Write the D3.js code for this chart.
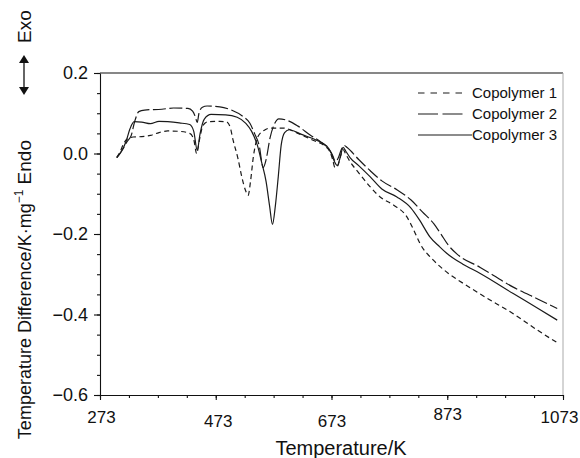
<!DOCTYPE html>
<html>
<head>
<meta charset="utf-8">
<script src="https://cdn.jsdelivr.net/npm/d3@7"></script>
<style>
  body { margin: 0; background: #fff; }
  svg { font-family: "Liberation Sans", Arial, sans-serif; }
</style>
</head>
<body>
<svg width="580" height="458"></svg>
<script>
// DTA curves of three copolymers
const seriesNames = ['Copolymer 1', 'Copolymer 2', 'Copolymer 3'];

const temp1 = [302, 308, 314, 320, 330, 345, 360, 375, 390, 410, 428, 435, 440, 445, 451, 460, 480, 492, 498, 503, 511, 518, 524, 529, 533, 538, 546, 557, 567, 590, 615, 641, 660, 670, 675, 679, 684, 689, 693, 697, 705, 720, 740, 757, 780, 803, 815, 826, 849, 875, 901, 940, 987, 1030, 1063];
const diff1 = [-0.01, 0.005, 0.025, 0.036, 0.041, 0.042, 0.045, 0.052, 0.056, 0.055, 0.05, 0.035, 0.0, 0.035, 0.07, 0.079, 0.08, 0.078, 0.065, 0.033, -0.01, -0.058, -0.09, -0.104, -0.07, -0.008, 0.042, 0.058, 0.063, 0.063, 0.05, 0.033, 0.02, 0.005, -0.015, -0.035, -0.03, -0.005, 0.01, 0.0, -0.02, -0.048, -0.083, -0.108, -0.128, -0.157, -0.19, -0.224, -0.265, -0.298, -0.323, -0.358, -0.398, -0.44, -0.47];

const temp2 = [302, 312, 320, 327, 333, 340, 350, 380, 400, 425, 433, 438, 441, 444, 450, 458, 480, 500, 520, 532, 540, 548, 555, 560, 567, 575, 582, 595, 615, 636, 655, 668, 675, 680, 685, 690, 695, 700, 720, 740, 760, 786, 810, 830, 850, 862, 875, 890, 930, 987, 1030, 1063];
const diff2 = [-0.01, 0.01, 0.03, 0.045, 0.08, 0.104, 0.108, 0.11, 0.113, 0.112, 0.105, 0.09, 0.077, 0.1, 0.115, 0.118, 0.116, 0.108, 0.092, 0.075, 0.05, 0.02, -0.035, -0.015, 0.04, 0.075, 0.086, 0.083, 0.068, 0.046, 0.028, 0.012, -0.005, -0.02, -0.01, 0.01, 0.02, 0.015, -0.015, -0.043, -0.068, -0.09, -0.115, -0.145, -0.175, -0.2, -0.228, -0.25, -0.283, -0.332, -0.362, -0.385];

const temp3 = [302, 310, 318, 325, 332, 345, 360, 375, 390, 410, 428, 435, 441, 446, 453, 465, 490, 510, 525, 535, 545, 552, 560, 566, 571, 576, 581, 586, 592, 600, 620, 647, 665, 673, 678, 683, 688, 693, 698, 705, 720, 740, 760, 786, 810, 825, 843, 860, 872, 900, 930, 987, 1030, 1063];
const diff3 = [-0.01, 0.005, 0.03, 0.062, 0.079, 0.078, 0.074, 0.08, 0.079, 0.076, 0.072, 0.055, 0.008, 0.05, 0.085, 0.097, 0.096, 0.09, 0.075, 0.055, 0.02, -0.02, -0.07, -0.13, -0.176, -0.13, -0.058, 0.02, 0.052, 0.059, 0.048, 0.033, 0.018, 0.0, -0.02, -0.03, -0.01, 0.015, 0.005, -0.01, -0.03, -0.058, -0.088, -0.108, -0.135, -0.165, -0.207, -0.232, -0.248, -0.275, -0.298, -0.348, -0.385, -0.414];

const xTicks = [273, 473, 673, 873, 1073];
const yTicks = [-0.6, -0.4, -0.2, 0.0, 0.2];

const svg = d3.select('svg');

// plot box
const plotLeft = 100, plotRight = 563, plotTop = 73, plotBottom = 395;

const x = d3.scaleLinear().domain([273, 1073]).range([plotLeft, plotRight]);
const y = d3.scaleLinear().domain([-0.6, 0.2]).range([plotBottom, plotTop]);

// frame: dark top line, grey right line
svg.append('line')
  .attr('x1', plotLeft).attr('x2', plotRight).attr('y1', plotTop).attr('y2', plotTop)
  .attr('stroke', '#111').attr('stroke-width', 1.2);
svg.append('line')
  .attr('x1', plotRight).attr('x2', plotRight).attr('y1', plotTop).attr('y2', plotBottom)
  .attr('stroke', '#aaa').attr('stroke-width', 1);

// minor ticks
const xMinor = svg.append('g').attr('transform', `translate(0,${plotBottom})`)
  .call(d3.axisBottom(x).tickValues(d3.range(273, 1074, 50)).tickSize(3).tickFormat(''));
xMinor.select('.domain').remove();
const yMinor = svg.append('g').attr('transform', `translate(${plotLeft},0)`)
  .call(d3.axisLeft(y).tickValues(d3.range(-0.6, 0.201, 0.05)).tickSize(3).tickFormat(''));
yMinor.select('.domain').remove();

// major axes
const fmt = d => d3.format('.1f')(d).replace('-', '\u2212');
const xAxis = svg.append('g').attr('transform', `translate(0,${plotBottom})`)
  .call(d3.axisBottom(x).tickValues(xTicks).tickSize(5).tickSizeOuter(0).tickFormat(d3.format('d')));
const yAxis = svg.append('g').attr('transform', `translate(${plotLeft},0)`)
  .call(d3.axisLeft(y).tickValues(yTicks).tickSize(6).tickSizeOuter(0).tickFormat(fmt));

[xAxis, yAxis, xMinor, yMinor].forEach(a => {
  a.selectAll('path, line').attr('stroke', '#111').attr('stroke-width', 1.1);
});

// tick labels in the scan sit a little unevenly
const xNudge = [[1, 28], [2, 32], [0, 32], [0, 25], [-4, 28]];
xAxis.selectAll('text')
  .attr('font-size', 17).attr('fill', '#111')
  .attr('y', (d, i) => xNudge[i][1]).attr('dy', 0)
  .attr('x', (d, i) => xNudge[i][0]);
yAxis.selectAll('text')
  .attr('font-size', 18).attr('fill', '#111').attr('x', -12);

// curves
const line = d3.line()
  .x(d => x(d[0]))
  .y(d => y(d[1]))
  .curve(d3.curveMonotoneX);

const series = [d3.zip(temp1, diff1), d3.zip(temp2, diff2), d3.zip(temp3, diff3)];
const dashes = ['5,3.5', '13,3.5', null];
const legendDashes = ['6.5,6', '20,4.5', null];

svg.append('g').selectAll('path')
  .data(series)
  .join('path')
  .attr('d', line)
  .attr('fill', 'none')
  .attr('stroke', '#1a1a1a')
  .attr('stroke-width', 1.2)
  .attr('stroke-dasharray', (d, i) => dashes[i]);

// legend
const legend = svg.append('g').selectAll('g')
  .data(seriesNames)
  .join('g')
  .attr('transform', (d, i) => `translate(418,${93 + i * 21})`);
legend.append('line')
  .attr('x1', 0).attr('x2', (d, i) => i === 2 ? 54 : 49)
  .attr('stroke', '#1a1a1a').attr('stroke-width', 1.2)
  .attr('stroke-dasharray', (d, i) => legendDashes[i]);
legend.append('text')
  .attr('x', 54).attr('dy', '0.35em')
  .attr('font-size', 15).attr('fill', '#111')
  .text(d => d);

// axis titles
svg.append('text')
  .attr('x', 341).attr('y', 455)
  .attr('text-anchor', 'middle')
  .attr('font-size', 20).attr('fill', '#111')
  .text('Temperature/K');

const yt = svg.append('text')
  .attr('transform', 'translate(31,140) rotate(-90)')
  .attr('text-anchor', 'end')
  .attr('font-size', 18).attr('fill', '#111');
yt.append('tspan').text('Temperature Difference/K\u00b7mg');
yt.append('tspan').attr('font-size', 12).attr('dy', -8).text('\u22121');
yt.append('tspan').attr('dy', 8).attr('font-size', 19).text(' Endo');

// Endo <-> Exo arrow
const ax = 24, a0 = 95, a1 = 55;
svg.append('line')
  .attr('x1', ax).attr('x2', ax).attr('y1', a0 - 6).attr('y2', a1 + 6)
  .attr('stroke', '#111').attr('stroke-width', 1.3);
svg.append('path')
  .attr('d', `M${ax - 5},${a0 - 8}L${ax + 5},${a0 - 8}L${ax},${a0}Z M${ax - 5},${a1 + 8}L${ax + 5},${a1 + 8}L${ax},${a1}Z`)
  .attr('fill', '#111');

svg.append('text')
  .attr('transform', 'translate(31,43) rotate(-90)')
  .attr('font-size', 19).attr('fill', '#111')
  .text('Exo');
</script>
</body>
</html>
